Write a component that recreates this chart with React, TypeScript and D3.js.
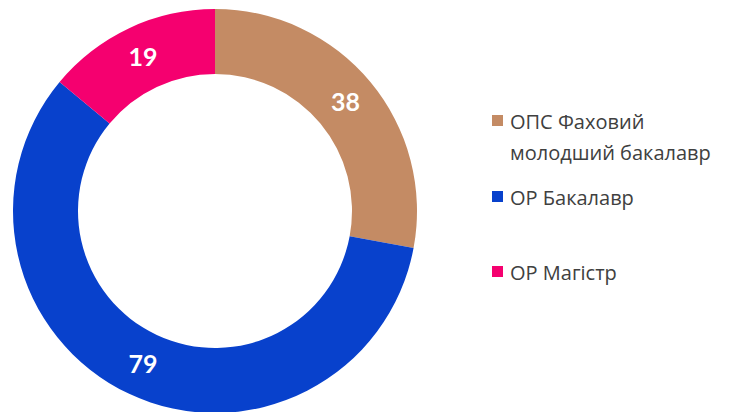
import React, { useEffect, useRef } from 'react';
import * as d3 from 'd3';

// programme types and student counts
const categories = ['ОПС Фаховий молодший бакалавр', 'ОР Бакалавр', 'ОР Магістр'];
const legendLines = [['ОПС Фаховий', 'молодший бакалавр'], ['ОР Бакалавр'], ['ОР Магістр']];
const values = [38, 79, 19];
const colors = ['#C48B64', '#0841CC', '#F5006F'];

function App() {
  const ref = useRef<SVGSVGElement>(null);

  useEffect(() => {
    const svg = d3.select(ref.current);
    svg.selectAll('*').remove();

    const width = 729;
    const height = 412;
    const cx = 215;
    const cy = 211;
    const outerR = 202;
    const innerR = 137;

    svg.attr('width', width).attr('height', height);

    const data = categories.map((c, i) => ({ name: c, value: values[i], color: colors[i] }));

    const pie = d3.pie<any>().sort(null).value(d => d.value);
    const arc = d3.arc<any>().innerRadius(innerR).outerRadius(outerR);

    const g = svg.append('g').attr('transform', `translate(${cx},${cy})`);

    const arcs = pie(data);

    g.selectAll('path')
      .data(arcs)
      .enter()
      .append('path')
      .attr('d', arc)
      .attr('fill', d => d.data.color);

    g.selectAll('text.lbl')
      .data(arcs)
      .enter()
      .append('text')
      .attr('class', 'lbl')
      .attr('x', d => arc.centroid(d)[0])
      .attr('y', d => arc.centroid(d)[1])
      .attr('dy', '0.35em')
      .attr('text-anchor', 'middle')
      .attr('fill', '#fff')
      .attr('font-family', 'Lato, sans-serif')
      .attr('font-weight', 'bold')
      .attr('font-size', 25)
      .text(d => d.data.value);

    // legend
    const rowBaselines = [129, 205, 280];
    const legend = svg.append('g');
    legendLines.forEach((lines, i) => {
      const base = rowBaselines[i];
      legend.append('rect')
        .attr('x', 492)
        .attr('y', base - 14)
        .attr('width', 11)
        .attr('height', 11)
        .attr('fill', colors[i]);
      lines.forEach((line, j) => {
        legend.append('text')
          .attr('x', 510)
          .attr('y', base + j * 31)
          .attr('fill', '#404040')
          .attr('font-family', '"Open Sans", sans-serif')
          .attr('font-size', 20)
          .text(line);
      });
    });
  }, []);

  return (
    <div style={{ position: 'absolute', left: 0, top: 0 }}>
      <svg ref={ref}></svg>
    </div>
  );
}

export default App;
